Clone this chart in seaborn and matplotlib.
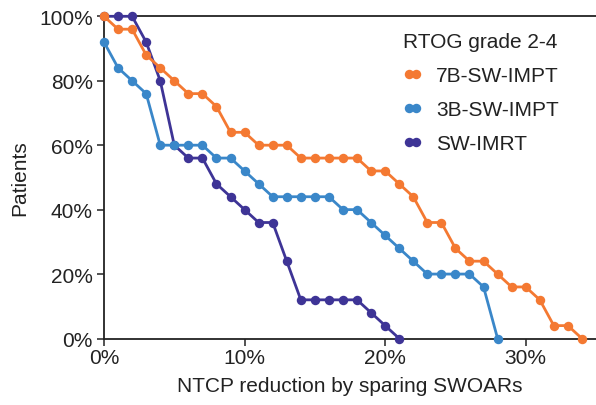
import numpy as np
import pandas as pd
import matplotlib
matplotlib.use("Agg")
import matplotlib.pyplot as plt
import seaborn as sns
from matplotlib.ticker import PercentFormatter

# Data (x: NTCP reduction in %, y: patients in %)
x_7b = list(range(0, 35))
y_7b = [100, 96, 96, 88, 84, 80, 76, 76, 72, 64, 64, 60, 60, 60, 56, 56, 56, 56, 56,
        52, 52, 48, 44, 36, 36, 28, 24, 24, 20, 16, 16, 12, 4, 4, 0]
x_3b = list(range(0, 29))
y_3b = [92, 84, 80, 76, 60, 60, 60, 60, 56, 56, 52, 48, 44, 44, 44, 44, 44, 40, 40,
        36, 32, 28, 24, 20, 20, 20, 20, 16, 0]
x_imrt = list(range(0, 22))
y_imrt = [100, 100, 100, 92, 80, 60, 56, 56, 48, 44, 40, 36, 36, 24, 12, 12, 12, 12, 12,
          8, 4, 0]

series_names = ["7B-SW-IMPT", "3B-SW-IMPT", "SW-IMRT"]
colors = {"7B-SW-IMPT": "#F47932", "3B-SW-IMPT": "#3A87C9", "SW-IMRT": "#3E3496"}
legend_title = "RTOG grade 2-4"
x_label = "NTCP reduction by sparing SWOARs"
y_label = "Patients"
x_ticks = [0, 10, 20, 30]
y_ticks = [0, 20, 40, 60, 80, 100]

df = pd.concat([
    pd.DataFrame({"x": x_7b, "y": y_7b, "method": "7B-SW-IMPT"}),
    pd.DataFrame({"x": x_3b, "y": y_3b, "method": "3B-SW-IMPT"}),
    pd.DataFrame({"x": x_imrt, "y": y_imrt, "method": "SW-IMRT"}),
], ignore_index=True)

sns.set_style("white")
plt.rcParams["font.family"] = ["Liberation Sans", "DejaVu Sans"]

FS = 15
fig = plt.figure(figsize=(5.96, 4.06), dpi=100)
ax = fig.add_axes([104 / 596, 66.5 / 406, 1 - 104 / 596, (339.5 - 17.3) / 406])

for name in ["SW-IMRT", "3B-SW-IMPT", "7B-SW-IMPT"]:
    sub = df[df["method"] == name]
    sns.lineplot(data=sub, x="x", y="y", ax=ax, color=colors[name], marker="o",
                 markersize=6.8, markeredgewidth=0, linewidth=2.0, clip_on=False,
                 label=name, zorder=3)

h, l = ax.get_legend_handles_labels()
hm = dict(zip(l, h))
leg = ax.legend([hm[n] for n in series_names], series_names, title=legend_title,
                frameon=False, fontsize=FS, title_fontsize=FS, numpoints=2,
                handlelength=0.9, handletextpad=0.7, labelspacing=0.72,
                loc="upper left", bbox_to_anchor=(403 / 596, 1 - 33 / 406),
                bbox_transform=fig.transFigure, borderaxespad=0, borderpad=0)
leg._legend_box.align = "left"
for t in leg.get_texts():
    t.set_color("#222222")
leg.get_title().set_color("#222222")

ax.set_xlim(0, 35)
ax.set_ylim(0, 100)
ax.set_xticks(x_ticks)
ax.set_yticks(y_ticks)
ax.xaxis.set_major_formatter(PercentFormatter(decimals=0))
ax.yaxis.set_major_formatter(PercentFormatter(decimals=0))
ax.tick_params(axis="both", direction="out", length=5, width=1.3, colors="#444444",
               labelsize=FS, labelcolor="#222222", pad=3, bottom=True, left=True)
ax.tick_params(axis="x", pad=2)
ax.set_xlabel(x_label, fontsize=FS, color="#222222", labelpad=6)
ax.set_ylabel(y_label, fontsize=FS, color="#222222", labelpad=7)

for side in ["left", "bottom", "top"]:
    ax.spines[side].set_visible(True)
    ax.spines[side].set_color("#222222")
    ax.spines[side].set_linewidth(1.3)
ax.spines["right"].set_visible(False)

fig.savefig("out.png", dpi=100)
